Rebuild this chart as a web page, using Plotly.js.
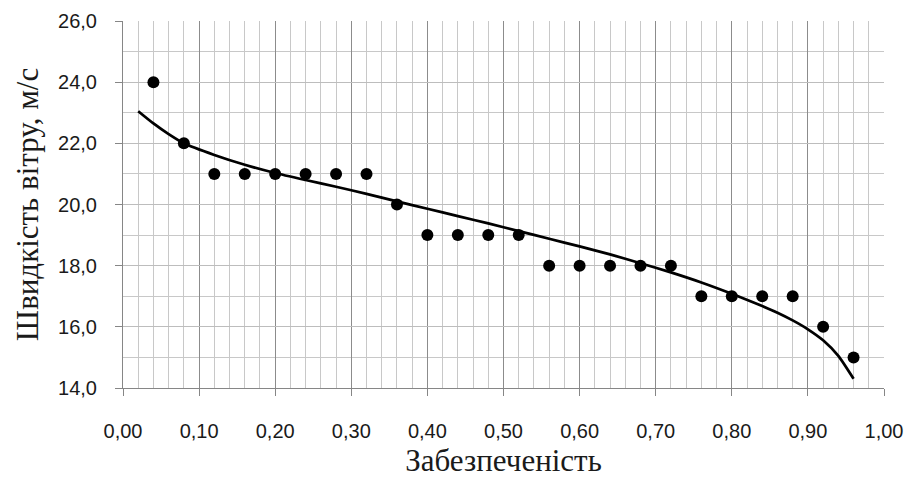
<!DOCTYPE html>
<html>
<head>
<meta charset="utf-8">
<script src="https://cdn.plot.ly/plotly-3.0.1.min.js"></script>
<style>
  html, body { margin: 0; padding: 0; background: #ffffff; }
  #chart { width: 912px; height: 481px; }
</style>
</head>
<body>
<div id="chart"></div>
<script>
// Observed data (забезпеченість, швидкість вітру)
const probability = [0.04, 0.08, 0.12, 0.16, 0.20, 0.24, 0.28, 0.32, 0.36, 0.40, 0.44, 0.48,
                     0.52, 0.56, 0.60, 0.64, 0.68, 0.72, 0.76, 0.80, 0.84, 0.88, 0.92, 0.96];
const windSpeed = [24, 22, 21, 21, 21, 21, 21, 21, 20, 19, 19, 19,
                   19, 18, 18, 18, 18, 18, 17, 17, 17, 17, 16, 15];

// Trend curve
const trendX = [0.02, 0.04, 0.06, 0.08, 0.12, 0.16, 0.20, 0.24, 0.28, 0.32, 0.36, 0.40, 0.44,
                0.48, 0.52, 0.56, 0.60, 0.64, 0.68, 0.72, 0.76, 0.80, 0.84, 0.86, 0.88, 0.90, 0.92, 0.94, 0.96];
const trendY = [23.05, 22.65, 22.3, 22.0, 21.62, 21.3, 21.03, 20.8, 20.58, 20.35, 20.1, 19.86, 19.62,
                19.38, 19.13, 18.88, 18.63, 18.37, 18.08, 17.78, 17.45, 17.08, 16.68, 16.46, 16.21, 15.92, 15.56, 15.05, 14.3];

const xTitle = 'Забезпеченість';
const yTitle = 'Швидкість вітру, м/с';

const traces = [
  {
    x: trendX, y: trendY, type: 'scatter', mode: 'lines',
    line: { color: '#000000', width: 2.75, shape: 'spline', smoothing: 0.6 },
    hoverinfo: 'skip', showlegend: false
  },
  {
    x: probability, y: windSpeed, type: 'scatter', mode: 'markers',
    marker: { color: '#000000', size: 12, symbol: 'circle' },
    showlegend: false
  }
];

const tickFont = { family: 'Liberation Sans, Arial, sans-serif', size: 20, color: '#1a1a1a' };
const titleFont = { family: 'Liberation Serif, Times New Roman, serif', size: 31, color: '#1a1a1a' };

const layout = {
  width: 912, height: 481,
  margin: { l: 123, r: 28, t: 21, b: 93 },
  paper_bgcolor: '#ffffff', plot_bgcolor: '#ffffff',
  separators: ', ',
  showlegend: false,
  xaxis: {
    range: [0, 1], tick0: 0, dtick: 0.1, tickformat: '.2f',
    showgrid: true, gridcolor: '#8c8c8c', gridwidth: 1,
    minor: { dtick: 0.02, showgrid: true, gridcolor: '#c8c8c8', gridwidth: 1, ticks: '' },
    showline: true, linecolor: '#868686', linewidth: 1,
    ticks: 'outside', ticklen: 7, tickcolor: '#868686',
    ticklabelstandoff: 18,
    tickfont: tickFont, zeroline: false,
    title: { text: xTitle, font: titleFont, standoff: 8 }
  },
  yaxis: {
    range: [14, 26], tick0: 14, dtick: 2, tickformat: '.1f',
    showgrid: true, gridcolor: '#bdbdbd', gridwidth: 1,
    minor: { dtick: 1, showgrid: true, gridcolor: '#c8c8c8', gridwidth: 1, ticks: '' },
    showline: true, linecolor: '#868686', linewidth: 1,
    ticks: 'outside', ticklen: 7, tickcolor: '#868686',
    ticklabelstandoff: 14,
    tickfont: tickFont, zeroline: false,
    title: { text: yTitle, font: titleFont, standoff: 10 }
  }
};

Plotly.newPlot('chart', traces, layout, { staticPlot: true, displayModeBar: false });
</script>
</body>
</html>
